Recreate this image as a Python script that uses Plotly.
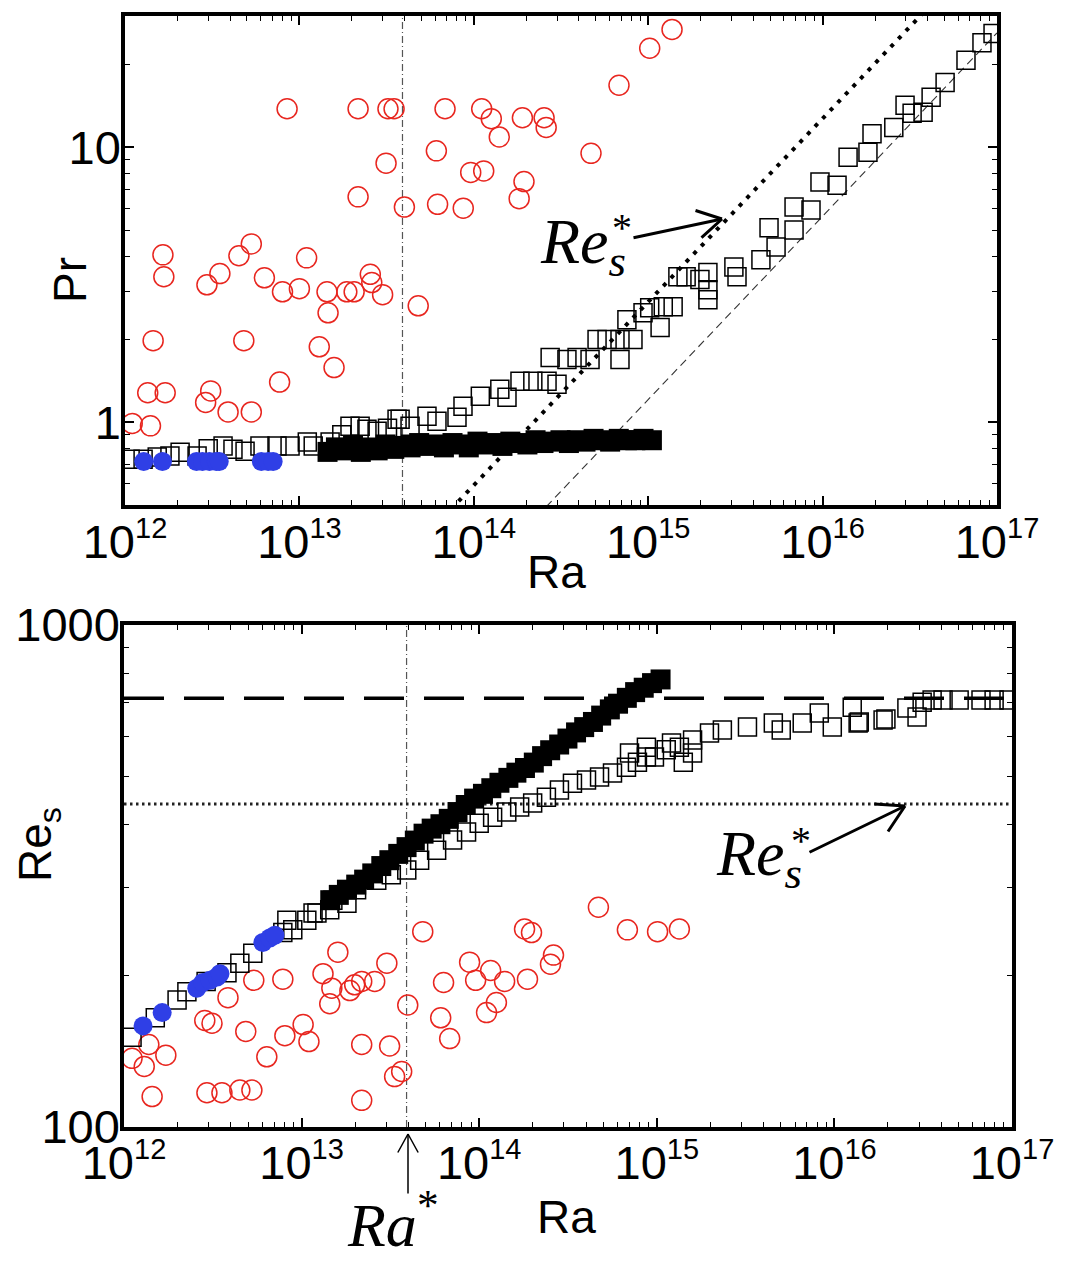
import numpy as np
import plotly.graph_objects as go

W, H = 1067, 1265
SANS = "Liberation Sans, Arial, Helvetica, sans-serif"
SERIF = "Liberation Serif, Times New Roman, serif"
RED = "#e8261f"
BLUE = "#2f3fe6"

# ---------------- upper panel: Pr vs Ra ----------------
ra_red_pr = [1.1e12, 1.4e12, 1.35e12, 1.7e12, 1.45e12, 2.9e12, 3.1e12, 3.9e12, 5.3e12, 4.8e12,
             7.7e12, 1.3e13, 1.58e13, 1.46e13, 1.65e12, 1.67e12, 2.95e12, 3.5e12, 4.5e12, 5.3e12,
             6.3e12, 8.0e12, 1.0e13, 1.1e13, 1.44e13, 1.87e13, 2.06e13, 2.55e13, 2.6e13, 3.0e13,
             8.5e12, 2.17e13, 3.22e13, 3.49e13, 3.14e13, 2.17e13, 4.0e13, 4.8e13, 6.84e13, 1.11e14,
             1.26e14, 1.9e14, 2.53e14, 2.6e14, 1.4e14, 6.1e13, 4.7e14, 9.6e13, 1.14e14, 1.94e14,
             1.82e14, 6.2e13, 8.7e13, 6.8e14, 1.02e15, 1.37e15]
pr_red = [0.99, 0.97, 1.28, 1.28, 1.98, 1.18, 1.30, 1.09, 1.09, 1.98,
          1.40, 1.88, 1.58, 2.50, 4.06, 3.38, 3.16, 3.47, 4.03, 4.45,
          3.35, 2.98, 3.06, 3.96, 2.98, 2.98, 2.98, 3.45, 3.22, 2.91,
          13.8, 13.8, 13.8, 13.8, 8.75, 6.6, 6.06, 2.65, 13.8, 13.8,
          12.7, 12.8, 12.8, 11.8, 10.9, 9.7, 9.5, 8.1, 8.2, 7.5,
          6.5, 6.2, 6.0, 16.8, 22.9, 26.8]

ra_open_pr = [1.07e12, 1.27e12, 1.53e12, 1.81e12, 2.07e12, 2.59e12, 3.0e12, 3.65e12, 4.16e12, 4.88e12,
              5.94e12, 7.44e12, 8.84e12, 1.11e13, 1.20e13, 1.50e13, 1.75e13, 1.95e13, 2.23e13, 2.44e13,
              2.79e13, 3.2e13, 3.63e13, 3.78e13, 4.31e13, 5.39e13, 6.15e13, 8.01e13, 8.67e13, 1.09e14,
              1.41e14, 1.55e14, 1.84e14, 2.18e14, 2.63e14, 3.00e14, 2.74e14, 3.42e14, 3.91e14, 4.64e14,
              5.09e14, 5.81e14, 6.89e14, 8.18e14, 6.89e14, 7.55e14, 9.34e14, 1.02e15, 1.22e15, 1.17e15,
              1.39e15, 1.48e15, 1.65e15, 1.98e15, 2.20e15, 2.20e15, 2.20e15, 3.10e15, 3.23e15, 4.43e15,
              4.93e15, 5.41e15, 6.86e15, 6.86e15, 8.58e15, 9.66e15, 1.21e16, 1.40e16, 1.82e16, 1.92e16,
              2.56e16, 2.97e16, 3.26e16, 3.77e16, 4.19e16, 5.04e16, 6.64e16, 8.20e16, 9.49e16]
pr_open = [0.734, 0.734, 0.747, 0.753, 0.778, 0.753, 0.80, 0.819, 0.798, 0.785,
           0.819, 0.819, 0.819, 0.847, 0.819, 0.847, 0.90, 0.967, 0.967, 0.943,
           0.927, 0.95, 1.025, 1.025, 0.967, 1.051, 1.008, 1.042, 1.143, 1.242,
           1.317, 1.232, 1.408, 1.408, 1.408, 1.373, 1.72, 1.691, 1.72, 1.691,
           2.0, 2.0, 2.0, 2.0, 1.691, 2.36, 2.50, 2.61, 2.63, 2.21,
           2.63, 3.38, 3.38, 3.30, 3.50, 3.03, 2.79, 3.67, 3.38, 3.90,
           5.09, 4.34, 6.06, 5.00, 5.91, 7.47, 7.28, 9.20, 9.59, 11.2,
           11.8, 14.2, 13.3, 13.4, 15.2, 17.2, 20.7, 24.0, 25.9]

# filled-square runs (same Ra in both panels)
ra_filled = [1.45e13, 1.62e13, 1.80e13, 2.03e13, 2.25e13, 2.50e13, 2.81e13, 3.12e13, 3.50e13, 3.90e13,
             4.34e13, 4.86e13, 5.40e13, 6.05e13, 6.74e13, 7.55e13, 8.40e13, 9.36e13, 1.05e14, 1.17e14,
             1.30e14, 1.46e14, 1.62e14, 1.81e14, 2.03e14, 2.26e14, 2.51e14, 2.82e14, 3.14e14, 3.51e14,
             3.90e14, 4.37e14, 4.86e14, 5.44e14, 6.05e14, 6.78e14, 7.55e14, 8.44e14, 9.40e14, 1.05e15]
pr_filled = [0.78, 0.81, 0.79, 0.82, 0.78, 0.80, 0.79, 0.83, 0.80, 0.82,
             0.81, 0.84, 0.82, 0.83, 0.81, 0.84, 0.83, 0.81, 0.85, 0.83,
             0.84, 0.82, 0.85, 0.84, 0.83, 0.86, 0.84, 0.85, 0.86, 0.84,
             0.86, 0.85, 0.87, 0.86, 0.85, 0.87, 0.86, 0.86, 0.87, 0.86]
re_filled = [283, 290, 297, 304, 311, 320, 331, 340, 350, 361,
             372, 384, 393, 401, 411, 424, 438, 451, 461, 473,
             485, 496, 508, 519, 532, 548, 563, 578, 594, 611,
             626, 641, 660, 679, 697, 716, 735, 750, 766, 779]

ra_blue = [1.28e12, 1.64e12, 2.57e12, 2.78e12, 3.05e12, 3.34e12, 3.47e12, 6.05e12, 6.62e12, 7.07e12]
pr_blue = [0.72, 0.72, 0.72, 0.72, 0.72, 0.72, 0.72, 0.72, 0.72, 0.72]
re_blue = [159, 169, 189, 194, 196, 199, 202, 233, 238, 241]

# ---------------- lower panel: Re_s vs Ra ----------------
ra_red_re = [1.11e12, 1.38e12, 1.72e12, 1.30e12, 1.44e12, 2.93e12, 3.56e12, 4.49e12, 5.25e12, 2.85e12,
             3.13e12, 3.85e12, 4.85e12, 6.37e12, 5.38e12, 7.84e12, 8.05e12, 1.02e13, 1.10e13, 1.32e13,
             1.48e13, 1.44e13, 1.60e13, 1.87e13, 1.99e13, 2.18e13, 2.58e13, 3.02e13, 2.18e13, 3.13e13,
             2.18e13, 3.34e13, 3.66e13, 3.96e13, 4.81e13, 6.30e13, 6.07e13, 6.82e13, 8.83e13, 9.55e13,
             1.16e14, 1.39e14, 1.10e14, 1.25e14, 1.80e14, 1.97e14, 1.87e14, 2.52e14, 2.62e14, 4.69e14,
             6.83e14, 1.01e15, 1.34e15]
re_red = [137, 146, 139, 132, 115, 117, 117, 118.5, 118.5, 163,
          161, 181, 155, 138, 196, 197, 152, 160, 148, 202,
          189, 176, 223, 187, 192, 195, 195, 212, 146, 145,
          113, 126, 129, 175, 245, 194, 165, 150, 213, 196,
          205, 195, 169, 177, 248, 244, 197, 211, 220, 274,
          247, 245, 248]

ra_open_re = [1.11e12, 1.5e12, 1.99e12, 2.26e12, 2.9e12, 3.80e12, 4.49e12, 5.31e12, 7.84e12, 8.26e12,
              8.92e12, 1.07e13, 1.16e13, 1.22e13, 1.44e13, 1.50e13, 1.80e13, 2.04e13, 2.65e13, 3.2e13,
              3.91e13, 4.62e13, 5.76e13, 7.08e13, 8.49e13, 1.00e14, 1.19e14, 1.43e14, 1.69e14, 2.00e14,
              2.39e14, 2.83e14, 3.35e14, 4.02e14, 4.76e14, 5.63e14, 6.75e14, 7.02e14, 7.78e14, 8.74e14,
              8.74e14, 9.70e14, 1.13e15, 1.21e15, 1.34e15, 1.41e15, 1.59e15, 1.59e15, 1.98e15, 2.34e15,
              3.24e15, 4.53e15, 5.02e15, 6.59e15, 8.22e15, 9.73e15, 1.26e16, 1.36e16, 1.38e16, 1.88e16,
              1.95e16, 2.56e16, 2.92e16, 3.12e16, 3.55e16, 4.09e16, 5.04e16, 6.69e16, 7.93e16, 9.62e16]
re_open = [151, 165, 179, 186, 195, 203, 212, 222, 244, 258,
           247, 258, 267, 267, 271, 283, 279, 297, 310, 318,
           325, 340, 356, 373, 387, 403, 414, 424, 434, 442,
           454, 469, 484, 491, 498, 507, 521, 556, 533, 546,
           571, 546, 564, 582, 571, 533, 556, 590, 609, 618,
           626, 638, 618, 638, 668, 626, 686, 638, 641, 647,
           650, 683, 656, 702, 709, 709, 709, 709, 709, 709]

# characteristic values
RA_STAR = 3.9e13      # Ra*
RES_STAR = 440        # Re_s*
RES_MAX = 715         # upper Re_s level
# Pr ~ Ra^(2/3) boundaries, given by the Ra at which each reaches Pr = 0.5
RA_DOT_0 = 7.8e13
RA_DASH_0 = 2.66e14
SLOPE = 2.0 / 3.0

ra_line = np.logspace(12, 17, 80)
pr_dotted = 0.5 * (ra_line / RA_DOT_0) ** SLOPE
pr_dashed = 0.5 * (ra_line / RA_DASH_0) ** SLOPE

PR_RANGE = (0.5, 30)
RE_RANGE = (100, 1000)
RA_RANGE = (1e12, 1e17)

fig = go.Figure()

# ---- upper panel traces ----
fig.add_trace(go.Scatter(x=[RA_STAR, RA_STAR], y=list(PR_RANGE), mode="lines",
                         line=dict(color="#555", width=1.2, dash="7px,3px,1px,3px"),
                         xaxis="x", yaxis="y"))
fig.add_trace(go.Scatter(x=ra_line, y=pr_dotted, mode="lines",
                         line=dict(color="black", width=4, dash="4px,7px"),
                         xaxis="x", yaxis="y"))
fig.add_trace(go.Scatter(x=ra_line, y=pr_dashed, mode="lines",
                         line=dict(color="#333", width=1.1, dash="8px,5px"),
                         xaxis="x", yaxis="y"))
fig.add_trace(go.Scatter(x=ra_red_pr, y=pr_red, mode="markers",
                         marker=dict(symbol="circle-open", size=20, color=RED, line=dict(width=1.5)),
                         xaxis="x", yaxis="y"))
fig.add_trace(go.Scatter(x=ra_open_pr, y=pr_open, mode="markers",
                         marker=dict(symbol="square-open", size=18, color="black", line=dict(width=1.5)),
                         xaxis="x", yaxis="y"))
fig.add_trace(go.Scatter(x=ra_filled, y=pr_filled, mode="markers",
                         marker=dict(symbol="square", size=20, color="black", line=dict(width=0)),
                         xaxis="x", yaxis="y"))
fig.add_trace(go.Scatter(x=ra_blue, y=pr_blue, mode="markers",
                         marker=dict(symbol="circle", size=19, color=BLUE, line=dict(width=0)),
                         xaxis="x", yaxis="y"))

# ---- lower panel traces ----
fig.add_trace(go.Scatter(x=[RA_STAR, RA_STAR], y=list(RE_RANGE), mode="lines",
                         line=dict(color="#555", width=1.2, dash="7px,3px,1px,3px"),
                         xaxis="x2", yaxis="y2"))
fig.add_trace(go.Scatter(x=list(RA_RANGE), y=[RES_MAX, RES_MAX], mode="lines",
                         line=dict(color="black", width=3.5, dash="40px,20px"),
                         xaxis="x2", yaxis="y2"))
fig.add_trace(go.Scatter(x=list(RA_RANGE), y=[RES_STAR, RES_STAR], mode="lines",
                         line=dict(color="#222", width=2.8, dash="2.5px,3.5px"),
                         xaxis="x2", yaxis="y2"))
fig.add_trace(go.Scatter(x=ra_red_re, y=re_red, mode="markers",
                         marker=dict(symbol="circle-open", size=20, color=RED, line=dict(width=1.5)),
                         xaxis="x2", yaxis="y2"))
fig.add_trace(go.Scatter(x=ra_open_re, y=re_open, mode="markers",
                         marker=dict(symbol="square-open", size=18, color="black", line=dict(width=1.5)),
                         xaxis="x2", yaxis="y2"))
fig.add_trace(go.Scatter(x=ra_filled, y=re_filled, mode="markers",
                         marker=dict(symbol="square", size=20, color="black", line=dict(width=0)),
                         xaxis="x2", yaxis="y2"))
fig.add_trace(go.Scatter(x=ra_blue, y=re_blue, mode="markers",
                         marker=dict(symbol="circle", size=19, color=BLUE, line=dict(width=0)),
                         xaxis="x2", yaxis="y2"))

# ---- axes ----
decades = [1e12, 1e13, 1e14, 1e15, 1e16, 1e17]
decade_text = ["10<sup><span style='font-size:29px'>%d</span></sup>" % k for k in range(12, 18)]
ra_minor = [m * 10.0 ** k for k in range(12, 17) for m in range(2, 10)]
pr_minor = [0.5, 0.6, 0.7, 0.8, 0.9, 2, 3, 4, 5, 6, 7, 8, 9, 20, 30]
re_minor = [200, 300, 400, 500, 600, 700, 800, 900]

tickfont = dict(family=SANS, size=47, color="black")


def log_axis(**kw):
    base = dict(type="log", showline=True, linewidth=3.5, linecolor="black", mirror="ticks",
                ticks="inside", ticklen=9, tickwidth=1.6, tickcolor="black", automargin=False,
                showgrid=False, zeroline=False, tickfont=tickfont, tickmode="array")
    base.update(kw)
    return base


minor_style = dict(ticks="inside", ticklen=5, tickwidth=1.2, tickcolor="black", showgrid=False)

fig.update_layout(
    width=W, height=H, margin=dict(l=0, r=0, t=0, b=0, autoexpand=False),
    paper_bgcolor="white", plot_bgcolor="white", showlegend=False,
    font=dict(family=SANS, color="black"),
    xaxis=log_axis(domain=[125 / W, 997 / W], range=[12, 17], anchor="y",
                   tickvals=decades, ticktext=decade_text, ticklabelstandoff=-7,
                   minor=dict(tickmode="array", tickvals=ra_minor, **minor_style)),
    yaxis=log_axis(domain=[1 - 505 / H, 1 - 16 / H], range=[np.log10(PR_RANGE[0]), np.log10(PR_RANGE[1])],
                   anchor="x", tickvals=[1, 10], ticktext=["1", "10"], ticklabelstandoff=-9,
                   minor=dict(tickmode="array", tickvals=pr_minor, **minor_style)),
    xaxis2=log_axis(domain=[124 / W, 1012 / W], range=[12, 17], anchor="y2",
                    tickvals=decades, ticktext=decade_text, ticklabelstandoff=-8,
                    minor=dict(tickmode="array", tickvals=ra_minor, **minor_style)),
    yaxis2=log_axis(domain=[1 - 1127 / H, 1 - 625 / H], range=[2, 3], anchor="x2",
                    tickvals=[100, 1000], ticktext=["100", "1000"], ticklabelstandoff=-9,
                    minor=dict(tickmode="array", tickvals=re_minor, **minor_style)),
)


def px(x):
    return x / W


def py(y):
    return 1 - y / H


annotations = []


def label(text, x, y, size, family=SANS, angle=0, xanchor="center", yanchor="middle"):
    annotations.append(dict(text=text, x=px(x), y=py(y), xref="paper", yref="paper",
                            showarrow=False, textangle=angle, xanchor=xanchor, yanchor=yanchor,
                            font=dict(family=family, size=size, color="black")))


def arrow(head, tail, barbs, width):
    # shaft
    annotations.append(dict(text="", x=px(head[0]), y=py(head[1]), xref="paper", yref="paper",
                            ax=tail[0] - head[0], ay=tail[1] - head[1], showarrow=True,
                            arrowhead=0, arrowwidth=width, arrowcolor="black",
                            standoff=0, startstandoff=0))
    # open arrow head
    for bx, by in barbs:
        annotations.append(dict(text="", x=px(head[0]), y=py(head[1]), xref="paper", yref="paper",
                                ax=bx, ay=by, showarrow=True, arrowhead=0, arrowwidth=width,
                                arrowcolor="black", standoff=0, startstandoff=0))


# axis titles
label("Pr", 70, 280, 46, angle=-90)
label("Ra", 556, 572, 46)
label("Re<sub>s</sub>", 38, 845, 46, angle=-90)
label("Ra", 566, 1217, 46)

# Re_s* marker, upper panel
label("<i>Re</i><sub><i>s</i></sub>", 538, 246, 64, family=SERIF, xanchor="left")
label("*", 622, 228, 40, family=SERIF)
arrow((722, 219), (632, 238), [(-28, -9), (-22, 20)], 3)

# Re_s* marker, lower panel
label("<i>Re</i><sub><i>s</i></sub>", 714, 858, 64, family=SERIF, xanchor="left")
label("*", 801, 840, 40, family=SERIF)
arrow((905, 806), (808, 853), [(-32, -2), (-18, 27)], 3)

# Ra* marker below lower axis
label("<i>Ra</i><sup>*</sup>", 345, 1220, 62, family=SERIF, xanchor="left")
arrow((408, 1134), (408, 1195), [(-11, 20), (11, 20)], 1.5)

fig.update_layout(annotations=annotations)

fig.write_html("out.html")
